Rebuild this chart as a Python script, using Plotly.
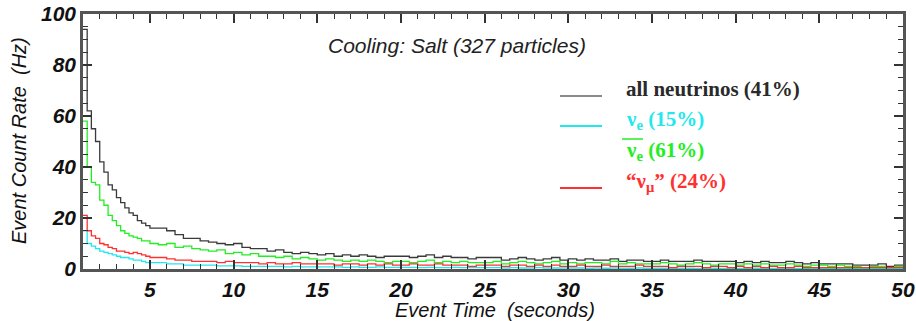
import numpy as np
import plotly.graph_objects as go

# bin left edges (s): 0.25 s bins from 1 to 5, 0.5 s bins from 5 to 50
bin_edges_fine = np.arange(1.0, 5.0, 0.25)
bin_edges_coarse = np.arange(5.0, 50.0, 0.5)
x_end = 50.0

all_nu = [94, 62, 55, 50, 42, 38, 33, 31, 28, 26, 24, 22, 21, 19, 18, 17,
          16, 16, 15, 13.5, 12, 12, 11, 10.5, 10, 9.5,
          10, 8.5, 8, 8, 7, 7.5, 6.5, 6, 6.5, 6,
          5.5, 6, 5, 5.5, 5, 5.5, 5, 4.5, 5, 5,
          5, 4.5, 5, 5.5, 4.5, 5, 4.5, 4.5, 4, 4.5,
          4.5, 4.5, 3.5, 4, 4.5, 4, 3.5, 4, 4.5, 3.5,
          4, 3.5, 4, 3.5, 3.5, 4, 3, 3.5, 3.5, 3,
          3, 3.5, 3, 3, 3, 3.5, 3, 3, 3, 3,
          2.5, 3, 2.5, 3, 2.5, 2.5, 3, 2.5, 2, 2.5,
          2, 2, 2, 2, 1.5, 1.5, 1.5, 2, 1, 1.5]

nu_e = [15, 10, 9, 8, 7, 6.5, 6, 5.5, 5, 4.5, 4.5, 4, 3.5, 3.5, 3, 2.5,
        2.5, 2.5, 2, 2, 1.5, 1.5, 1.5, 1.5, 1.2, 1.2,
        1.2, 1, 1, 1, 1, 1, 0.8, 1, 0.8, 0.8,
        0.8, 0.8, 0.8, 0.6, 0.8, 0.6, 0.6, 0.8, 0.6, 0.6,
        0.6, 0.6, 0.5, 0.6, 0.5, 0.5, 0.6, 0.5, 0.5, 0.5,
        0.5, 0.5, 0.4, 0.5, 0.4, 0.4, 0.5, 0.4, 0.4, 0.4,
        0.4, 0.4, 0.3, 0.4, 0.3, 0.4, 0.3, 0.3, 0.4, 0.3,
        0.3, 0.3, 0.3, 0.3, 0.3, 0.2, 0.3, 0.3, 0.2, 0.3,
        0.2, 0.2, 0.3, 0.2, 0.2, 0.2, 0.2, 0.2, 0.2, 0.2,
        0.2, 0.2, 0.1, 0.2, 0.1, 0.2, 0.1, 0.1, 0.1, 0.1]

anti_nu_e = [58, 40, 34, 33, 27, 25, 21, 19, 17, 15, 14, 13, 12.5, 12, 11, 11,
             10, 9.5, 10, 8.5, 9, 8, 7.5, 7, 7.5, 6,
             6.5, 5.5, 6, 5, 5, 4.5, 5, 4, 4.5, 4,
             3.5, 4, 3.5, 3, 3.5, 3, 3.5, 3, 2.5, 3,
             3, 2.5, 3, 3.5, 2.5, 3, 2.5, 3, 2.5, 2.5,
             2.5, 3, 2, 2.5, 3, 2.5, 2, 2.5, 3, 2,
             2.5, 2, 2.5, 2.5, 2, 3, 2, 2.5, 2, 2,
             2, 2.5, 2, 1.5, 2, 2.5, 2, 1.5, 2, 2,
             1.5, 2, 1.5, 2, 1.5, 1.5, 2, 1.5, 1, 1.5,
             1.5, 1, 1.5, 1, 1, 0.5, 1, 1, 0.5, 1]

nu_mu = [21, 15, 13, 12, 10, 9.5, 8.5, 8, 7, 7, 6.5, 6, 6.5, 6, 5.5, 5,
         4.5, 4.5, 4, 3.5, 3.5, 3, 3, 3, 2.5, 3,
         2.5, 2.5, 2.5, 2, 2.5, 2, 2, 2.5, 2, 2,
         2, 2, 1.5, 2, 2, 1.5, 2, 1.5, 2, 1.5,
         1.5, 2, 1.5, 1.5, 2, 1.5, 1.5, 1.5, 1, 1.5,
         1.5, 1.5, 1, 1.5, 1.5, 1, 1.5, 1, 1.5, 1,
         1, 1.5, 1, 1, 1.5, 1, 1, 1, 1.5, 1,
         1, 1, 0.5, 1, 1, 1, 0.5, 1, 1, 0.5,
         1, 0.5, 1, 0.5, 1, 0.5, 0.5, 1, 0.5, 0.5,
         0.5, 0.5, 0.5, 0.5, 0.5, 0.5, 0.5, 0.5, 0.5, 0.5]

x_ticks = [5, 10, 15, 20, 25, 30, 35, 40, 45, 50]
y_ticks = [0, 20, 40, 60, 80, 100]

edges = np.concatenate([bin_edges_fine, bin_edges_coarse, [x_end]])

series = [
    ("all neutrinos (41%)", all_nu, "#3a3a3a"),
    ("ν_e (15%)", nu_e, "#22e8ee"),
    ("anti ν_e (61%)", anti_nu_e, "#22ee22"),
    ("ν_μ (24%)", nu_mu, "#ff3030"),
]

fig = go.Figure()
for name, vals, col in series:
    y = list(vals) + [vals[-1]]
    fig.add_trace(go.Scatter(x=edges, y=y, mode="lines", line=dict(color=col, width=1.3, shape="hv"),
                             name=name, showlegend=False))

tickfont = dict(family="Liberation Sans", size=21, color="#111", weight="bold", style="italic")
titlefont = dict(family="Liberation Sans", size=20, color="#111", style="italic")

fig.update_xaxes(range=[1, 50], tickvals=x_ticks, ticktext=[str(v) for v in x_ticks],
                 ticks="inside", ticklen=9, tickwidth=1.5, tickcolor="#333",
                 minor=dict(dtick=1, tick0=0, ticks="inside", ticklen=5, tickwidth=1.2, tickcolor="#333"),
                 showline=True, linecolor="#555", linewidth=2.5, mirror="allticks",
                 showgrid=False, zeroline=False, tickfont=tickfont, automargin=False)
fig.update_yaxes(range=[0, 100], tickvals=y_ticks, ticktext=[str(v) for v in y_ticks],
                 ticks="inside", ticklen=9, tickwidth=1.5, tickcolor="#333",
                 minor=dict(dtick=5, tick0=0, ticks="inside", ticklen=5, tickwidth=1.2, tickcolor="#333"),
                 showline=True, linecolor="#555", linewidth=2.5, mirror="allticks",
                 showgrid=False, zeroline=False, tickfont=tickfont, ticklabelstandoff=0, automargin=False)

L, R = 83, 903
T, B = 14, 269
def px(xp):
    return (xp - L) / (R - L)
def py(yp):
    return (B - yp) / (B - T)

annotations = [
    dict(text="Cooling: Salt (327 particles)", x=px(457), y=py(45), xref="paper", yref="paper",
         showarrow=False, font=dict(family="Liberation Sans", size=21, color="#222", style="italic"),
         xanchor="center", yanchor="middle"),
    dict(text="Event Time\u00a0\u00a0(seconds)", x=px(495), y=py(310), xref="paper", yref="paper",
         showarrow=False, font=titlefont, xanchor="center", yanchor="middle"),
    dict(text="Event Count Rate\u00a0\u00a0(Hz)", x=px(19), y=py(141), xref="paper", yref="paper",
         showarrow=False, font=titlefont, xanchor="center", yanchor="middle", textangle=-90),
]
legend_font = dict(family="Liberation Serif", size=21, weight="bold")
legend_rows = [
    ("all neutrinos (41%)", "#2a2a2a", 89),
    ("ν<sub>e</sub> (15%)", "#22e8ee", 120),
    ("ν<sub>e</sub> (61%)", "#22ee22", 151),
    ("“ν<sub>μ</sub>” (24%)", "#ff3030", 182),
]
for txt, col, yp in legend_rows:
    annotations.append(dict(text=txt, x=px(624), y=py(yp), xref="paper", yref="paper", showarrow=False,
                            font=dict(color=col, **legend_font), xanchor="left", yanchor="middle"))
shapes = []
for col, yp in [("#8a8a8a", 96), ("#22e8ee", 126), ("#ff3030", 188)]:
    shapes.append(dict(type="line", xref="paper", yref="paper", x0=px(560), x1=px(602), y0=py(yp), y1=py(yp),
                       line=dict(color=col, width=2)))
# overbar of the anti-neutrino symbol in the legend
shapes.append(dict(type="line", xref="paper", yref="paper", x0=px(622), x1=px(643), y0=py(139), y1=py(139),
                   line=dict(color="#22ee22", width=1.5)))

fig.update_layout(width=916, height=321, margin=dict(l=L, r=916 - R, t=T, b=321 - B),
                  paper_bgcolor="white", plot_bgcolor="white",
                  annotations=annotations, shapes=shapes, showlegend=False)

fig.write_html("out.html", config={"displayModeBar": False},
               post_script="document.body.style.margin='0';document.body.style.overflow='hidden';")
